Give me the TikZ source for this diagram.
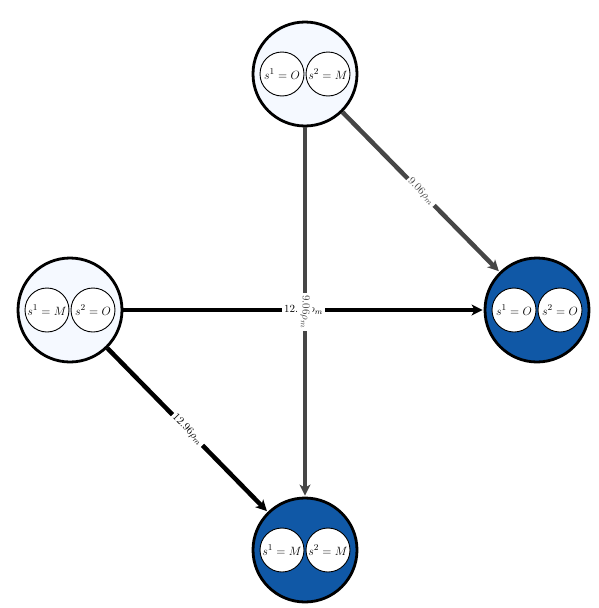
\documentclass[tikz,border=0pt]{standalone}
\usetikzlibrary{arrows.meta}
\definecolor{lightfill}{RGB}{245,249,255}
\definecolor{darkfill}{RGB}{16,88,166}
\definecolor{edgegray}{RGB}{70,70,70}
\tikzset{
  outer/.style={circle, draw=black, line width=2.8pt, minimum size=104pt, inner sep=0pt},
  inner/.style={circle, draw=black, fill=white, line width=0.9pt, minimum size=44pt, inner sep=0pt, font=\fontsize{12.5}{15}\selectfont},
  edge/.style={line width=4.5pt, -{Stealth[length=11pt,width=11pt,inset=3pt]}, shorten >=1pt},
  elabel/.style={fill=white, inner sep=2pt, sloped, font=\fontsize{11}{13}\selectfont}
}
\begin{document}
\begin{tikzpicture}[x=1pt,y=-1pt]
\useasboundingbox (0,0) rectangle (598,608);
\node[outer, fill=lightfill] (T) at (305,74) {};
\node[outer, fill=lightfill] (L) at (70,310) {};
\node[outer, fill=darkfill] (R) at (537,310) {};
\node[outer, fill=darkfill] (B) at (305,550) {};
\node[inner] (T1) at (282,74) {\hbox to 0pt{\hss$s^1=O$\hss}};
\node[inner] (T2) at (328,74) {\hbox to 0pt{\hss$s^2=M$\hss}};
\node[inner] (L1) at (47,310) {\hbox to 0pt{\hss$s^1=M$\hss}};
\node[inner] (L2) at (93,310) {\hbox to 0pt{\hss$s^2=O$\hss}};
\node[inner] (R1) at (514,310) {\hbox to 0pt{\hss$s^1=O$\hss}};
\node[inner] (R2) at (560,310) {\hbox to 0pt{\hss$s^2=O$\hss}};
\node[inner] (B1) at (282,550) {\hbox to 0pt{\hss$s^1=M$\hss}};
\node[inner] (B2) at (328,550) {\hbox to 0pt{\hss$s^2=M$\hss}};
\draw[edge, black] (L) -- node[elabel] {$12.96\rho_m$} (R);
\draw[edge, black] (L) -- node[elabel] {$12.96\rho_m$} (B);
\draw[edge, edgegray] (T) -- node[elabel] {$9.06\rho_m$} (R);
\draw[edge, edgegray] (T) -- node[elabel] {$9.06\rho_m$} (B);
\end{tikzpicture}
\end{document}
